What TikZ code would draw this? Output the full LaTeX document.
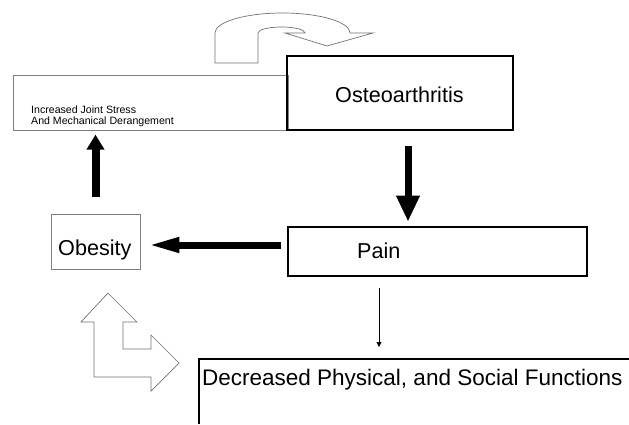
\documentclass[tikz,border=0pt]{standalone}
\usepackage{fontspec}
\setmainfont{Liberation Sans}
\usetikzlibrary{arrows.meta,calc}
\begin{document}
\begin{tikzpicture}[x=1pt,y=1pt,
  thinbox/.style={draw=black!50,line width=0.8pt,inner sep=0pt,rectangle},
  thickbox/.style={draw=black,line width=2.6pt,inner sep=0pt,rectangle},
  txt/.style={inner sep=0pt,anchor=base west,text=black},
  bigtxt/.style={txt,font=\fontsize{21.6}{25}\selectfont},
  outline/.style={draw=black!55,line width=0.7pt,fill=white,line join=miter},
  fatarrow/.style={line width=7pt,-{Triangle[length=26pt,width=22pt]}},
  thinarrow/.style={line width=0.8pt,-{Triangle[length=5pt,width=5pt]}}]
\useasboundingbox (0,0) rectangle (629,424);
% boxes
\node[thinbox,minimum width=275pt,minimum height=55pt] (inc) at (150.5,321.5) {};
\node[thickbox,minimum width=226pt,minimum height=74pt] (osteo) at (400,331) {};
\node[thickbox,minimum width=299pt,minimum height=49pt] (pain) at (437.5,172.5) {};
\node[thinbox,minimum width=89pt,minimum height=55pt] (obesity) at (95.5,182.5) {};
\coordinate (decTL) at (199,65);
\draw[line width=2.4pt] (199,0) -- (decTL) -- (629,65);
% texts
\node[txt,font=\fontsize{10.6}{11}\selectfont] (incA) at (31,310) {Increased Joint Stress};
\node[txt,font=\fontsize{10.6}{11}\selectfont] (incB) at (31,299.5) {And Mechanical Derangement};
\node[bigtxt] (osteoT) at (335,322) {Osteoarthritis};
\node[bigtxt] (painT) at (357,166) {Pain};
\node[bigtxt] (obesityT) at (58,169) {Obesity};
\node[txt,font=\fontsize{22.5}{26}\selectfont] (decT) at (202,39) {Decreased Physical, and Social Functions};
% arrows
\draw[fatarrow] ($(osteo.south)+(8,-15)$) -- ($(pain.north)+(-29.5,4)$);
\draw[line width=7pt,-{Triangle[length=32pt,width=14pt]}] ($(pain.west)+(-6,6.5)$) -- ($(obesity.east)+(7,-3.5)$);
\draw[line width=8pt,-{Triangle[length=15pt,width=17pt]}] ($(obesity.north)+(0,17)$) -- ($(obesity.north)+(0,79)$);
\draw[thinarrow] ($(pain.south)+(-58.5,-11)$) -- ($(decTL)+(180,12)$);
% U-turn arrow
\draw[outline] (215,361) -- (215,391) arc[start angle=180,end angle=0,x radius=67.5,y radius=20]
  -- (373,391) -- (327,378) -- (285,391) -- (305,391)
  arc[start angle=0,end angle=180,x radius=23.5,y radius=6] -- (258,361) -- cycle;
% L-shaped double arrow
\draw[outline] (108,131) -- (137,102) -- (123,102) -- (123,75) -- (151,75) -- (151,89)
  -- (179,61) -- (151,33) -- (151,47) -- (94,47) -- (94,102) -- (81,102) -- cycle;
\end{tikzpicture}
\end{document}
